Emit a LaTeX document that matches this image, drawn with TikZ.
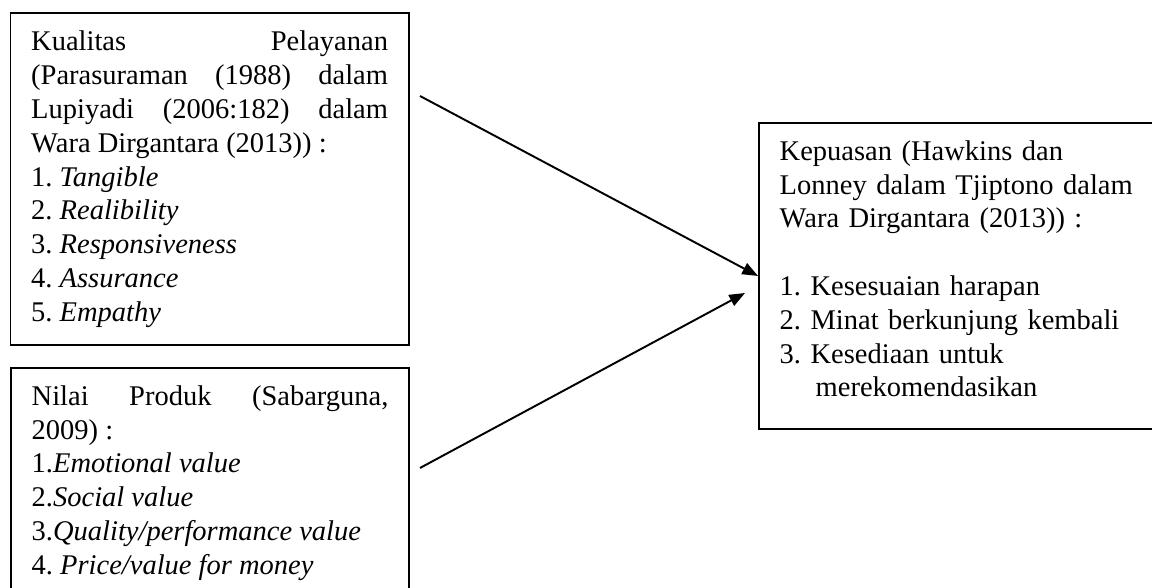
\documentclass[tikz,border=0pt]{standalone}
\usepackage{fontspec}
\setmainfont{Liberation Serif}
\usetikzlibrary{arrows.meta}
\begin{document}
\begin{tikzpicture}[x=0.414pt, y=-0.414pt]
\tikzstyle{kotak}=[draw, line width=0.8pt, anchor=north west, inner xsep=8.6pt, inner ysep=7.25pt, font=\fontsize{11.8}{14}\selectfont\frenchspacing]
\tikzstyle{panah}=[-{Triangle[length=6.5pt, width=5pt]}, line width=0.8pt]
\useasboundingbox (0,0) rectangle (1152,588);
\clip (0,0) rectangle (1152,588);
    \node [kotak, text width=147.7pt, align=justify] (kualitas) at (9.5,12.5)
        {Kualitas Pelayanan\linebreak (Parasuraman (1988) dalam\linebreak Lupiyadi (2006:182) dalam\linebreak Wara Dirgantara (2013)) :\\
        1. \textit{Tangible}\\
        2. \textit{Realibility}\\
        3. \textit{Responsiveness}\\
        4. \textit{Assurance}\\
        5. \textit{Empathy}};
    \node [kotak, text width=147.7pt, align=justify] (nilai) at (10,367)
        {Nilai Produk (Sabarguna,\linebreak 2009) :\\
        1.\textit{Emotional value}\\
        2.\textit{Social value}\\
        3.\textit{Quality/performance value}\\
        4. \textit{Price/value for money}};
    \node [kotak, text width=151pt, align=left] (kepuasan) at (758,122)
        {Kepuasan (Hawkins dan\\
        Lonney dalam Tjiptono dalam\\
        Wara Dirgantara (2013)) :\\[14pt]
        1. Kesesuaian harapan\\
        2. Minat berkunjung kembali\\
        3. Kesediaan untuk\\
        \hspace*{14.9pt}merekomendasikan\rule[-6pt]{0pt}{6pt}};
    \coordinate (awal1) at (420,96);
    \coordinate (awal2) at (420,468);
    \coordinate (ujung2) at (745,293);
    \draw [panah] (awal1) -- (kepuasan.west);
    \draw [panah] (awal2) -- (ujung2);
\end{tikzpicture}
\end{document}
